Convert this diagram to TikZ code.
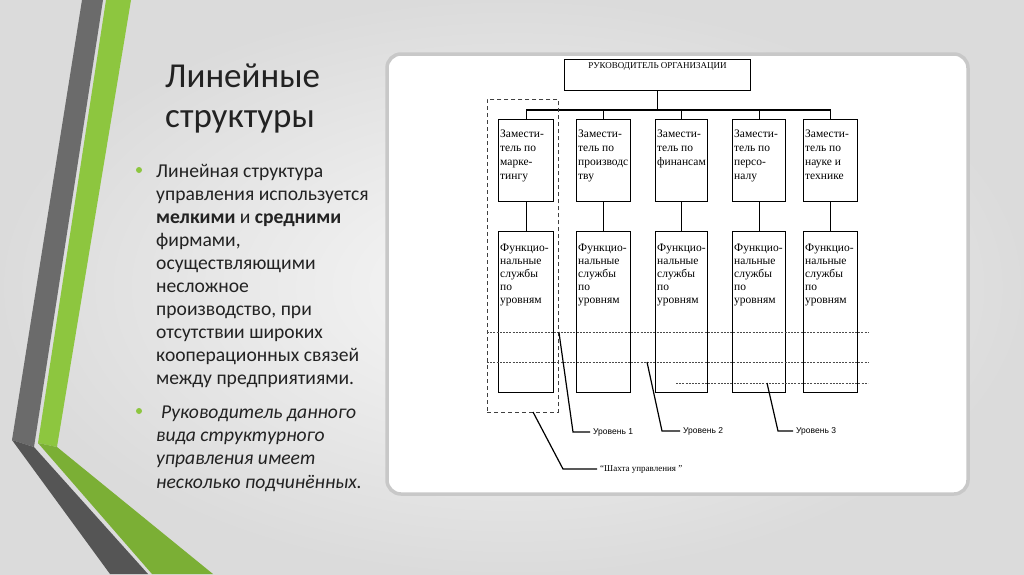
\documentclass[tikz,border=0pt]{standalone}
\usepackage{fontspec}
\setmainfont{Carlito}
\newfontfamily\tnr{Liberation Serif}
\newfontfamily\arl{Liberation Sans}
\usepackage{xcolor}
\usepackage{tikz}
\usetikzlibrary{positioning}
\definecolor{slidegreen}{HTML}{8DC63F}
\definecolor{greendark}{HTML}{7BAF35}
\definecolor{bandgray}{HTML}{6B6B6B}
\definecolor{bandgraydark}{HTML}{555555}
\definecolor{ink}{HTML}{222222}
\definecolor{panelrim}{HTML}{C8C8C8}
\begin{document}
\begin{tikzpicture}[x=1pt, y=-1pt,
      dep/.style={draw, line width=1.2pt, minimum width=55pt, minimum height=82pt, anchor=north west, inner sep=0pt},
      fun/.style={dep, minimum height=161pt},
      boxtxt/.style={anchor=base west, align=left, inner sep=0pt, font=\tnr\fontsize{11.5}{14.3}\selectfont},
      funtxt/.style={boxtxt, font=\tnr\fontsize{11.5}{13.2}\selectfont},
      level/.style={draw=black!70, line width=0.6pt, dash pattern=on 2pt off 1.2pt},
      leader/.style={draw, line width=1.2pt},
      lbl/.style={anchor=west, inner sep=3pt, font=\arl\fontsize{8.5}{10}\selectfont},
      bul/.style={anchor=base west, align=left, inner sep=0pt, text=ink, font=\fontsize{19.6}{22.9}\selectfont},
      dot/.style={circle, fill=slidegreen, minimum size=6pt, inner sep=0pt}
    ]
    \useasboundingbox (0,0) rectangle (1024,574);
    \shade[inner color=white!94!gray, outer color=gray!28] (0,0) rectangle (1024,574);
    \fill[bandgray] (82,0) -- (103,0) -- (34,447) -- (12,440) -- cycle;
    \fill[bandgraydark] (12,440) -- (34,447) -- (148,574) -- (110,574) -- cycle;
    \fill[slidegreen] (106,0) -- (131,0) -- (57,447) -- (38,443) -- cycle;
    \fill[greendark] (38,443) -- (57,447) -- (213,574) -- (152,574) -- cycle;

    \node[anchor=base west, align=left, inner sep=0pt, text=ink, font=\fontsize{35}{40}\selectfont] (title) at (165,127) {Линейные\\структуры};
    \node[dot] (d1) at (139,170) {};
    \node[bul] (b1) at (156,384) {Линейная структура\\управления используется\\\textbf{мелкими} и \textbf{средними}\\фирмами,\\осуществляющими\\несложное\\производство, при\\отсутствии широких\\кооперационных связей\\между предприятиями.};
    \node[dot] (d2) at (139,411) {};
    \node[bul, font=\itshape\fontsize{19.6}{23.2}\selectfont] (b2) at (156,488) {\hspace{5pt}Руководитель данного\\вида структурного\\управления имеет\\несколько подчинённых.};

    \draw[draw=panelrim, fill=white, line width=3.5pt, rounded corners=14pt] (387,54) rectangle (968,494);

    \node[dep, minimum width=186, minimum height=31] (head) at (564,59) {};
    \node[inner sep=0pt, font=\tnr\fontsize{9}{10}\selectfont] (headtxt) at ([shift={(0,7)}]head.north) {РУКОВОДИТЕЛЬ ОРГАНИЗАЦИИ};
    \coordinate (bus) at (0,110);
    \foreach \i/\x/\w/\n/\t in {
      1/498/55/4/{Замести-\\тель по\\марке-\\тингу},
      2/576/54/4/{Замести-\\тель по\\производс\\тву},
      3/655/52/3/{Замести-\\тель по\\финансам},
      4/732/53/4/{Замести-\\тель по\\персо-\\налу},
      5/803/54/4/{Замести-\\тель по\\науке и\\технике}} {
      \node[dep, minimum width=\w] (z\i) at (\x,119) {};
      \node[boxtxt] (zt\i) at ([shift={(2,{18+(\n-1)*14.3})}]z\i.north west) {\t};
      \node[fun, minimum width=\w] (f\i) at (\x,231) {};
      \node[funtxt] (ft\i) at ([shift={(2,72.8)}]f\i.north west) {Функцио-\\нальные\\службы\\по\\уровням};
      \draw[line width=1.2pt] (z\i.north |- bus) -- (z\i.north) (z\i.south) -- (f\i.north);
    }
    \draw[line width=1.2pt] (head.south) -- (head.south |- bus);
    \draw[line width=1.2pt] (z1.north |- bus) -- (z5.north |- bus);

    \node[draw=black!75, line width=0.9pt, dash pattern=on 4pt off 3pt, minimum width=71, minimum height=313, anchor=north west, inner sep=0pt] (shaft) at (487,99) {};
    \foreach \n/\xa/\xb/\y in {1/487/868/332, 2/487/868/362, 3/676/868/383} {
      \coordinate (l\n a) at (\xa,\y);
      \coordinate (l\n b) at (\xb,\y);
      \draw[level] (l\n a) -- (l\n b);
    }

    \node[lbl] (u1) at (590,432) {Уровень 1};
    \node[lbl] (u2) at (680,431) {Уровень 2};
    \node[lbl] (u3) at (793,431) {Уровень 3};
    \node[lbl, font=\tnr\fontsize{9}{10}\selectfont] (sh) at (597,469) {“Шахта управления ”};
    \coordinate (k1) at (shaft.east |- l1a);
    \coordinate (k2) at (647,362);
    \coordinate (k3) at (767,383);
    \coordinate (k4) at (533,412);
    \foreach \k/\u/\d in {k1/u1/17, k2/u2/18, k3/u3/15, k4/sh/34}
      \draw[leader] (\k) -- ([shift={(-\d,0)}]\u.west) -- (\u.west);
  \end{tikzpicture}
\end{document}
